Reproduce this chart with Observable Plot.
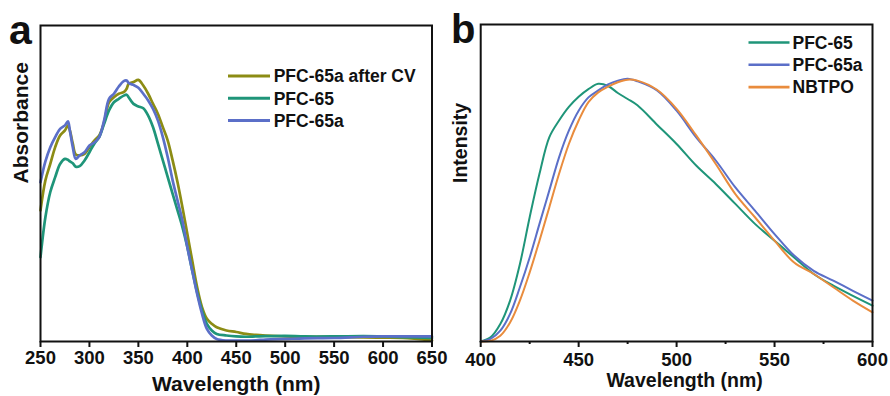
<!DOCTYPE html>
<html>
<head>
<meta charset="utf-8">
<script src="https://cdn.jsdelivr.net/npm/d3@7"></script>
<script src="https://cdn.jsdelivr.net/npm/@observablehq/plot@0.6"></script>
<style>
  html, body { margin: 0; padding: 0; background: #fff; }
  #wrap { position: relative; width: 890px; height: 396px; overflow: hidden; background: #fff; }
  #wrap > svg { position: absolute; top: 0; overflow: visible; }
</style>
</head>
<body>
<div id="wrap"></div>
<script>
// ---------- Panel a : absorbance ----------
const absWavelength = [250,255,260,265,270,275,278,280,283,286,290,295,300,305,310,315,320,325,330,335,338,340,345,350,355,360,365,370,375,380,385,390,395,400,405,410,415,420,425,430,440,450,460,470,480,500,520,550,580,600,620,650];
const absAfterCV = [41.5,51,56.2,61.5,65.2,66.8,68.4,66.8,62.6,59.2,58.9,59.4,61.5,63.6,65.2,69.4,75.7,77.3,78.4,78.9,80,81.5,82.1,82.8,81,78.4,75.2,72,67.8,63.6,57.3,50.4,42.5,34.1,25.6,17.2,10.9,7.2,5.6,4.5,3.5,3,2.4,2.1,1.9,1.6,1.5,1.4,1.3,1.2,1.1,0.3];
const absPFC65 = [26.7,39.3,47.3,52,56.2,57.8,57.5,57,56.4,55.3,55.5,57.3,59.9,62.6,64.7,68.9,73.1,75.7,76.8,77.8,78.1,77.3,75.2,74.4,73.8,71.5,67.8,62.6,57.3,52,46.7,41.5,36.2,29.9,22.5,15.6,9.8,5.6,3.5,2.4,1.9,1.6,1.5,1.6,1.7,1.8,1.6,1.6,1.7,1.6,1.4,1.1];
const absPFC65a = [50.4,57,61.5,64.7,67.3,68.4,69.7,66.8,61.5,57.8,58.9,59.9,62,63,64.7,70,76.8,78.4,80.7,82.4,82.6,81.8,81.2,80.3,78.4,76.3,73.6,69.9,64.7,58.3,51,44.6,38.3,29.9,22.5,15.1,8.8,4,1.9,0.8,0.3,0.3,0.3,0.4,0.6,0.8,1.0,1.1,1.5,1.6,1.6,1.6];
const absSeries = ["PFC-65a after CV", "PFC-65", "PFC-65a"];
const absColors = ["#8c8c14", "#1f9579", "#5b6fc8"];
const absTicks = [250,300,350,400,450,500,550,600,650];

// ---------- Panel b : photoluminescence ----------
const plWavelength = [400,405,410,415,420,425,430,435,440,445,450,455,460,465,470,475,480,490,500,510,520,530,540,550,560,570,580,590,600];
const plPFC65 = [0,1.3,5.5,12.9,24.4,39.2,52.9,64.4,69.7,74,77.2,79.6,81.3,80.6,78.4,76.5,74.5,68.4,62.3,55.5,49.7,43.4,37.1,31.8,26.5,21.3,17.6,14.4,11.3];
const plPFC65a = [0,0.8,3.4,8.7,17.1,26.5,37.1,47.6,58.1,66.5,72.8,77,79.2,81.1,82.3,82.9,82.1,79.2,72.8,64.4,57.1,48.6,41.3,33.9,27.1,22.3,19.2,16,12.9];
const plNBTPO = [0,0.2,1.8,6,12.9,21.8,31.8,42.3,52.9,62.3,69.7,75.5,78.6,80.4,81.8,82.6,82.3,79.4,73.4,65,56,46.5,39.2,31.8,24.9,21.3,17.1,12.9,9.2];
const plSeries = ["PFC-65", "PFC-65a", "NBTPO"];
const plColors = ["#1f9579", "#5b6fc8", "#e98c3d"];
const plTicks = [400,450,500,550,600];
const plMinorTicks = [425,475,525,575];

const FONT = "'Liberation Sans', Arial, Helvetica, sans-serif";

function toRows(wl, seriesNames, arrays) {
  const rows = [];
  seriesNames.forEach((s, i) => arrays[i].forEach((v, j) => rows.push({series: s, wl: wl[j], v})));
  return rows;
}

function legendMark(names, colors, opt) {
  return () => {
    const g = d3.create("svg:g");
    names.forEach((n, i) => {
      const y = opt.y0 + i * opt.step;
      g.append("line")
        .attr("x1", opt.x0).attr("x2", opt.x1)
        .attr("y1", y).attr("y2", y)
        .attr("stroke", colors[i]).attr("stroke-width", opt.lw);
      g.append("text")
        .attr("x", opt.tx).attr("y", y).attr("dy", "0.36em")
        .attr("text-anchor", "start")
        .attr("font-family", FONT).attr("font-weight", "bold")
        .attr("font-size", opt.fs).attr("fill", "#111")
        .text(n);
    });
    return g.node();
  };
}

const absRows = toRows(absWavelength, absSeries, [absAfterCV, absPFC65, absPFC65a]);
const plRows = toRows(plWavelength, plSeries, [plPFC65, plPFC65a, plNBTPO]);

const plotA = Plot.plot({
  width: 445, height: 396,
  marginLeft: 40, marginRight: 13.5, marginTop: 25, marginBottom: 55,
  style: {fontFamily: FONT, color: "#111", background: "transparent", overflow: "visible"},
  x: {domain: [250, 650]},
  y: {domain: [0, 100], axis: null},
  color: {domain: absSeries, range: absColors},
  marks: [
    Plot.line(absRows, {x: "wl", y: "v", z: "series", stroke: "series", strokeWidth: 2.7, curve: "catmull-rom"}),
    Plot.frame({stroke: "#111", strokeWidth: 2}),
    Plot.axisX({ticks: absTicks, tickSize: 6, tickPadding: 3, strokeWidth: 2, fontSize: 18.5, fontWeight: "bold", label: null, tickFormat: d => String(d)}),
    Plot.text(["Wavelength (nm)"], {text: d => d, frameAnchor: "bottom", lineAnchor: "bottom", dy: 49, fontSize: 21, fontWeight: "bold", fill: "#111"}),
    Plot.text(["Absorbance"], {text: d => d, frameAnchor: "left", rotate: -90, dx: -19.5, fontSize: 21, fontWeight: "bold", fill: "#111"}),
    Plot.text(["a"], {text: d => d, frameAnchor: "top-left", textAnchor: "start", lineAnchor: "bottom", dx: -31.6, dy: 18, fontSize: 41, fontWeight: "bold", fill: "#111"}),
    legendMark(absSeries, absColors, {x0: 228, x1: 270, tx: 273.7, y0: 76, step: 22.3, lw: 3, fs: 17.5})
  ]
});

const plotB = Plot.plot({
  width: 445, height: 396,
  marginLeft: 35.2, marginRight: 18, marginTop: 24, marginBottom: 55,
  style: {fontFamily: FONT, color: "#111", background: "transparent", overflow: "visible"},
  x: {domain: [400, 600]},
  y: {domain: [0, 100], axis: null},
  color: {domain: plSeries, range: plColors},
  marks: [
    Plot.line(plRows, {x: "wl", y: "v", z: "series", stroke: "series", strokeWidth: 2, curve: "catmull-rom"}),
    Plot.frame({stroke: "#111", strokeWidth: 2}),
    Plot.axisX({ticks: plTicks, tickSize: 6, tickPadding: 5, strokeWidth: 2, fontSize: 18.5, fontWeight: "bold", label: null, tickFormat: d => String(d)}),
    Plot.axisX({ticks: plMinorTicks, tickSize: 3, strokeWidth: 2, label: null, tickFormat: () => ""}),
    Plot.text(["Wavelength (nm)"], {text: d => d, frameAnchor: "bottom", lineAnchor: "bottom", dx: 8, dy: 45, fontSize: 19.5, fontWeight: "bold", fill: "#111"}),
    Plot.text(["Intensity"], {text: d => d, frameAnchor: "left", rotate: -90, dx: -20, fontSize: 19.5, fontWeight: "bold", fill: "#111"}),
    Plot.text(["b"], {text: d => d, frameAnchor: "top-left", textAnchor: "start", lineAnchor: "bottom", dx: -29.7, dy: 18.3, fontSize: 40, fontWeight: "bold", fill: "#111"}),
    legendMark(plSeries, plColors, {x0: 303.5, x1: 344.5, tx: 347.5, y0: 42.5, step: 22.3, lw: 2.6, fs: 17.5})
  ]
});

plotA.style.left = "0px";
plotB.style.left = "445px";
const wrap = document.getElementById("wrap");
wrap.appendChild(plotB);
wrap.appendChild(plotA);
</script>
</body>
</html>
